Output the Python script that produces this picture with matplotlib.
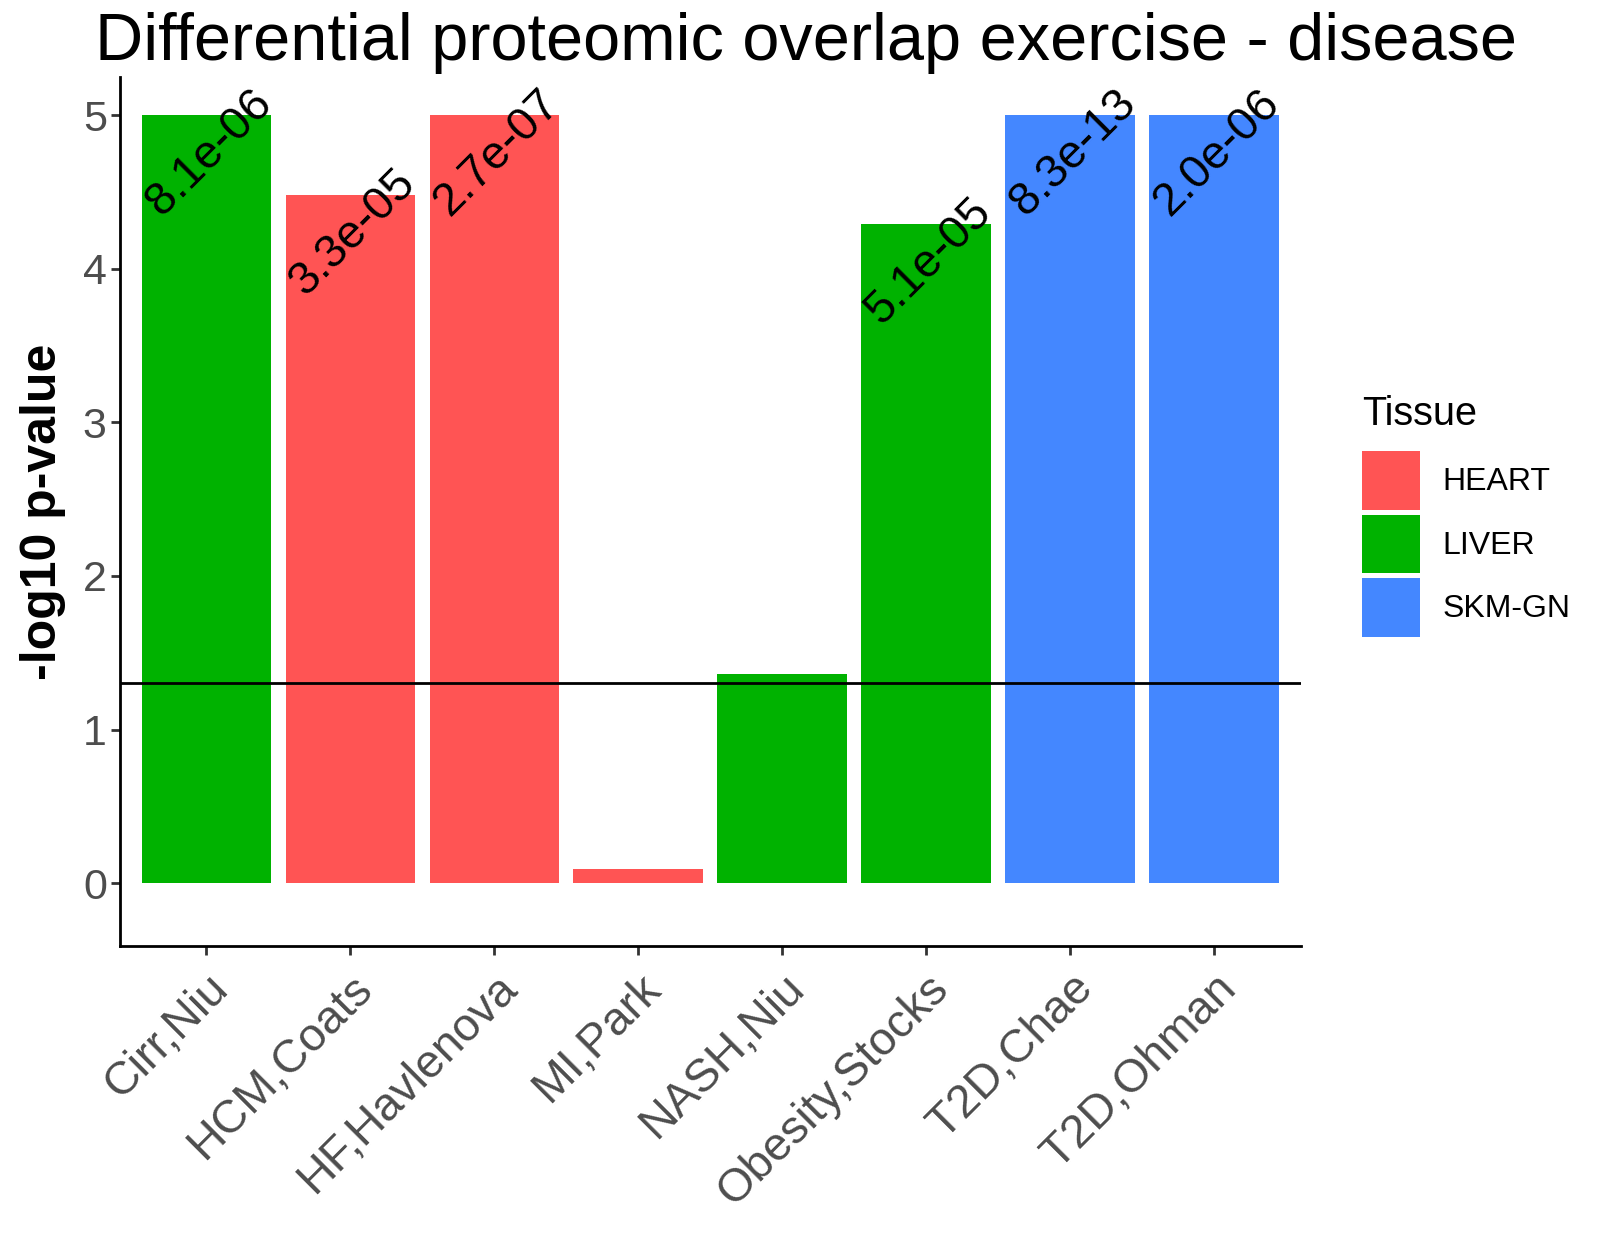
import numpy as np
import matplotlib
matplotlib.use("Agg")
import matplotlib.pyplot as plt
from matplotlib.patches import Patch

plt.rcParams['font.family'] = ['Liberation Sans', 'DejaVu Sans']

# data
studies = ["Cirr,Niu", "HCM,Coats", "HF,Havlenova", "MI,Park",
           "NASH,Niu", "Obesity,Stocks", "T2D,Chae", "T2D,Ohman"]
tissue = ["LIVER", "HEART", "HEART", "HEART", "LIVER", "LIVER", "SKM-GN", "SKM-GN"]
neg_log_p = [5.0, 4.48, 5.0, 0.09, 1.36, 4.29, 5.0, 5.0]  # capped at 5
p_labels = ["8.1e-06", "3.3e-05", "2.7e-07", "", "", "5.1e-05", "8.3e-13", "2.0e-06"]

tissue_levels = ["HEART", "LIVER", "SKM-GN"]
tissue_colors = {"HEART": "#FF5454", "LIVER": "#00B200", "SKM-GN": "#4487FF"}

fig = plt.figure(figsize=(16.08, 12.37), dpi=100)
ax = fig.add_axes([0.0746, 0.2352, 0.7342, 0.9378 - 0.2352])

x = np.arange(len(studies))
ax.bar(x, neg_log_p, width=0.9, color=[tissue_colors[t] for t in tissue])
ax.axhline(-np.log10(0.05), color="black", lw=2.0)

# p-value labels at bar tops
for i, (v, lab) in enumerate(zip(neg_log_p, p_labels)):
    if lab:
        ax.annotate(lab, xy=(i, v), xytext=(2, -27), textcoords="offset points",
                    ha="center", va="center", rotation=45, rotation_mode="anchor",
                    fontsize=33.5, color="black")

ax.set_xlim(-0.6, 7.6)
ax.set_ylim(-0.41, 5.25)
ax.set_yticks([0, 1, 2, 3, 4, 5])
ax.set_xticks(x)
ax.set_xticklabels(studies, rotation=45, ha="right", va="top", rotation_mode="anchor")

for s in ["top", "right"]:
    ax.spines[s].set_visible(False)
for s in ["left", "bottom"]:
    ax.spines[s].set_linewidth(2.0)
    ax.spines[s].set_color("black")

ax.tick_params(axis="both", labelsize=31, labelcolor="#4D4D4D", color="#333333",
               width=2, length=6.5)
ax.tick_params(axis="x", labelsize=33.5, pad=8)
ax.tick_params(axis="y", pad=3)

ax.set_ylabel("-log10 p-value", fontsize=36, fontweight="bold", labelpad=12)
fig.suptitle("Differential proteomic overlap exercise - disease", fontsize=48,
             x=0.501, y=0.99, va="top")

handles = [Patch(facecolor=tissue_colors[t], edgecolor="none", label=t) for t in tissue_levels]
leg = fig.legend(handles=handles, title="Tissue", loc="upper left",
                 bbox_to_anchor=(1362 / 1608, 1 - 395 / 1237), frameon=False,
                 fontsize=23, title_fontsize=28.5, handlelength=1.82, handleheight=2.45,
                 labelspacing=0.15, handletextpad=0.7, borderpad=0, borderaxespad=0,
                 alignment="left")
leg._legend_box.sep = 13  # extra room between title and keys

fig.savefig("out.png", dpi=100)
